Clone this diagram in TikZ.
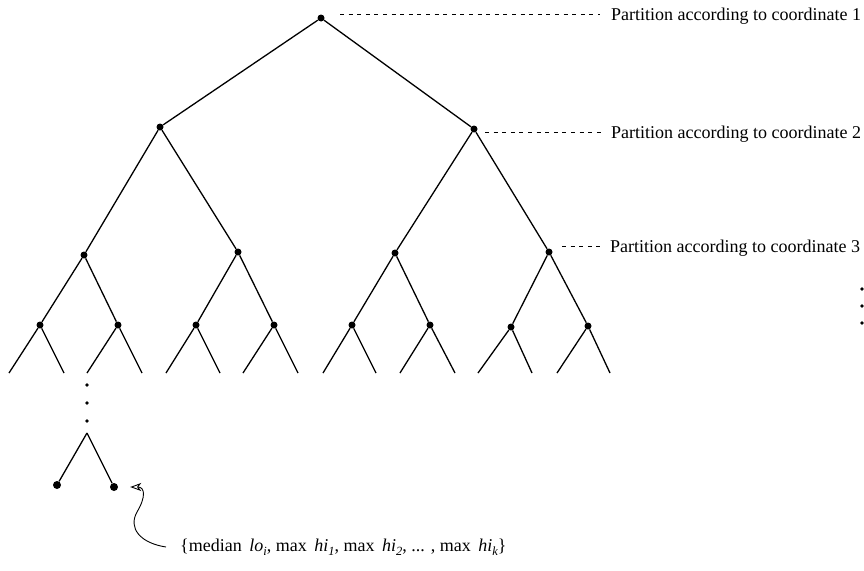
\documentclass[tikz,border=0pt]{standalone}
\usepackage{fontspec}
\setmainfont{Liberation Serif}
\usetikzlibrary{arrows.meta}

\tikzset{
  dot/.style={circle, fill=black, inner sep=0pt, minimum size=7pt},
  bigdot/.style={circle, fill=black, inner sep=0pt, minimum size=8pt},
  tinydot/.style={circle, fill=black, inner sep=0pt, minimum size=3.8pt},
  edge/.style={line width=1.3pt},
  partline/.style={line width=0.9pt, dash pattern=on 4pt off 4.6pt},
  lbl/.style={inner sep=0pt, font=\fontsize{18}{22}\selectfont},
}
\newcommand{\gapsp}{\ \hspace{3pt}}
\newcommand{\lowidx}[1]{\raisebox{-4pt}{\fontsize{12.5}{13}\selectfont\itshape #1}}

\begin{document}
\begin{tikzpicture}[x=1pt, y=-1pt]
\useasboundingbox (0,0) rectangle (864,570);

% --- kd-tree: internal nodes ---
\node[dot] (r)   at (321,18)  {};
\node[dot] (a)   at (160,127) {};
\node[dot] (b)   at (474,129) {};
\node[dot] (aa)  at (84,255)  {};
\node[dot] (ab)  at (238,252) {};
\node[dot] (ba)  at (395,253) {};
\node[dot] (bb)  at (549,252) {};
\node[dot] (aaa) at (40,325)  {};
\node[dot] (aab) at (118,325) {};
\node[dot] (aba) at (196,325) {};
\node[dot] (abb) at (274,325) {};
\node[dot] (baa) at (352,325) {};
\node[dot] (bab) at (430,325) {};
\node[dot] (bba) at (511,327) {};
\node[dot] (bbb) at (588,326) {};

% open ends of the drawn levels
\coordinate (e1)  at (9,373);   \coordinate (e2)  at (64,373);
\coordinate (e3)  at (87,373);  \coordinate (e4)  at (142,373);
\coordinate (e5)  at (166,373); \coordinate (e6)  at (220,373);
\coordinate (e7)  at (243,373); \coordinate (e8)  at (298,373);
\coordinate (e9)  at (323,373); \coordinate (e10) at (376,373);
\coordinate (e11) at (400,373); \coordinate (e12) at (455,373);
\coordinate (e13) at (478,373); \coordinate (e14) at (532,373);
\coordinate (e15) at (557,373); \coordinate (e16) at (610,373);

\draw[edge] (r) -- (a);  \draw[edge] (r) -- (b);
\draw[edge] (a) -- (aa); \draw[edge] (a) -- (ab);
\draw[edge] (b) -- (ba); \draw[edge] (b) -- (bb);
\draw[edge] (aa) -- (aaa); \draw[edge] (aa) -- (aab);
\draw[edge] (ab) -- (aba); \draw[edge] (ab) -- (abb);
\draw[edge] (ba) -- (baa); \draw[edge] (ba) -- (bab);
\draw[edge] (bb) -- (bba); \draw[edge] (bb) -- (bbb);
\draw[edge] (aaa) -- (e1);  \draw[edge] (aaa) -- (e2);
\draw[edge] (aab) -- (e3);  \draw[edge] (aab) -- (e4);
\draw[edge] (aba) -- (e5);  \draw[edge] (aba) -- (e6);
\draw[edge] (abb) -- (e7);  \draw[edge] (abb) -- (e8);
\draw[edge] (baa) -- (e9);  \draw[edge] (baa) -- (e10);
\draw[edge] (bab) -- (e11); \draw[edge] (bab) -- (e12);
\draw[edge] (bba) -- (e13); \draw[edge] (bba) -- (e14);
\draw[edge] (bbb) -- (e15); \draw[edge] (bbb) -- (e16);

% --- deep branch down to the leaves ---
\node[tinydot] (v1) at (87,385) {};
\node[tinydot] (v2) at (87,403) {};
\node[tinydot] (v3) at (87,421) {};
\coordinate (apex) at (87,433);
\node[bigdot] (l1) at (57,485)  {};
\node[bigdot] (l2) at (114,487) {};
\draw[edge] (apex) -- (l1);
\draw[edge] (apex) -- (l2);

% --- more levels on the right ---
\node[tinydot] (m1) at (862,289) {};
\node[tinydot] (m2) at (862,306) {};
\node[tinydot] (m3) at (862,323) {};

% --- partition labels ---
\node[lbl, anchor=base west] (t1) at (611,20)  {Partition according to coordinate 1};
\node[lbl, anchor=base west] (t2) at (611,138) {Partition according to coordinate 2};
\node[lbl, anchor=base west] (t3) at (610,252) {Partition according to coordinate 3};

\coordinate (d1a) at (340,14);  \coordinate (d1b) at (600,14);
\coordinate (d2a) at (485,132); \coordinate (d2b) at (603,132);
\coordinate (d3a) at (562,246); \coordinate (d3b) at (603,246);
\draw[partline] (d1a) -- (d1b);
\draw[partline] (d2a) -- (d2b);
\draw[partline] (d3a) -- (d3b);

% --- leaf contents ---
\node[lbl, anchor=base west] (lab) at (180,551)
  {\{median\gapsp\textit{lo}\lowidx{i}, max\gapsp
   \textit{hi}\lowidx{1}, max\gapsp
   \textit{hi}\lowidx{2}, ... , max\gapsp
   \textit{hi}\lowidx{k}\}};
\coordinate (cs) at (166,547);
\draw[line width=0.9pt, -{Stealth[open, length=11pt, width=8pt, inset=3pt]}, shorten >=12pt]
  (cs) .. controls (140,543) and (128,528) .. (137,512)
       .. controls (146,497) and (145,487) .. (l2.east);
\end{tikzpicture}
\end{document}
